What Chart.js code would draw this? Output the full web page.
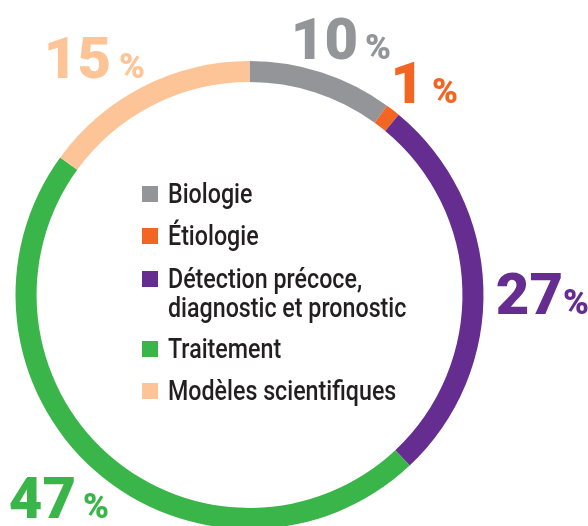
<!DOCTYPE html>
<html>
<head>
<meta charset="utf-8">
<script src="https://cdn.jsdelivr.net/npm/chart.js@4/dist/chart.umd.min.js"></script>
<style>
  html, body { margin: 0; padding: 0; background: #fff; overflow: hidden; }
  #wrap { position: relative; width: 588px; height: 540px; }
</style>
</head>
<body>
<div id="wrap"><canvas id="graficaDomaines"></canvas></div>
<script>
// données
const categories = ['Biologie', 'Étiologie', 'Détection précoce,\ndiagnostic et pronostic', 'Traitement', 'Modèles scientifiques'];
const pourcentages = [10, 1, 27, 47, 15];
const couleurs = ['#939598', '#f26522', '#662d91', '#3ab54a', '#fdc597'];

// position des grands pourcentages (bord droit des chiffres, ligne de base)
const placeEtiquettes = [
  { x: 358, y: 59, gap: 7 },
  { x: 424, y: 103, gap: 8 },
  { x: 563, y: 314, gap: 0 },
  { x: 76, y: 518, gap: 7 },
  { x: 111, y: 78, gap: 8 }
];

const etiquettes = {
  id: 'etiquettes',
  afterDraw(chart) {
    const ctx = chart.ctx;
    const ds = chart.data.datasets[0];
    ctx.save();
    ctx.textBaseline = 'alphabetic';
    ds.data.forEach((v, i) => {
      const p = placeEtiquettes[i];
      ctx.fillStyle = ds.backgroundColor[i];
      ctx.font = '900 58px Roboto';
      ctx.textAlign = 'right';
      ctx.fillText(String(v), p.x, p.y);
      ctx.font = '900 35px Roboto';
      ctx.textAlign = 'left';
      ctx.fillText('%', p.x + p.gap, p.y);
    });

    // légende au centre
    const baselines = [203, 245, 288, 358, 400];
    const sx = 0.83;
    ctx.font = '500 28px Roboto';
    chart.data.labels.forEach((lab, i) => {
      const y = baselines[i];
      ctx.fillStyle = ds.backgroundColor[i];
      ctx.fillRect(142, y - 17, 16, 16);
      ctx.fillStyle = '#231f20';
      lab.split('\n').forEach((ligne, k) => {
        ctx.save();
        ctx.translate(168, y + k * 29);
        ctx.scale(sx, 1);
        ctx.fillText(ligne, 0, 0);
        ctx.restore();
      });
    });
    ctx.restore();
  }
};

const ctx = document.getElementById('graficaDomaines').getContext('2d');
new Chart(ctx, {
  type: 'doughnut',
  data: {
    labels: categories,
    datasets: [{
      data: pourcentages,
      backgroundColor: couleurs,
      borderWidth: 0
    }]
  },
  options: {
    responsive: true,
    maintainAspectRatio: false,
    animation: false,
    cutout: '91%',
    layout: { padding: { left: 15.5, right: 104.5, top: 61, bottom: 11 } },
    plugins: {
      legend: { display: false },
      tooltip: { enabled: false }
    }
  },
  plugins: [etiquettes]
});
</script>
</body>
</html>
